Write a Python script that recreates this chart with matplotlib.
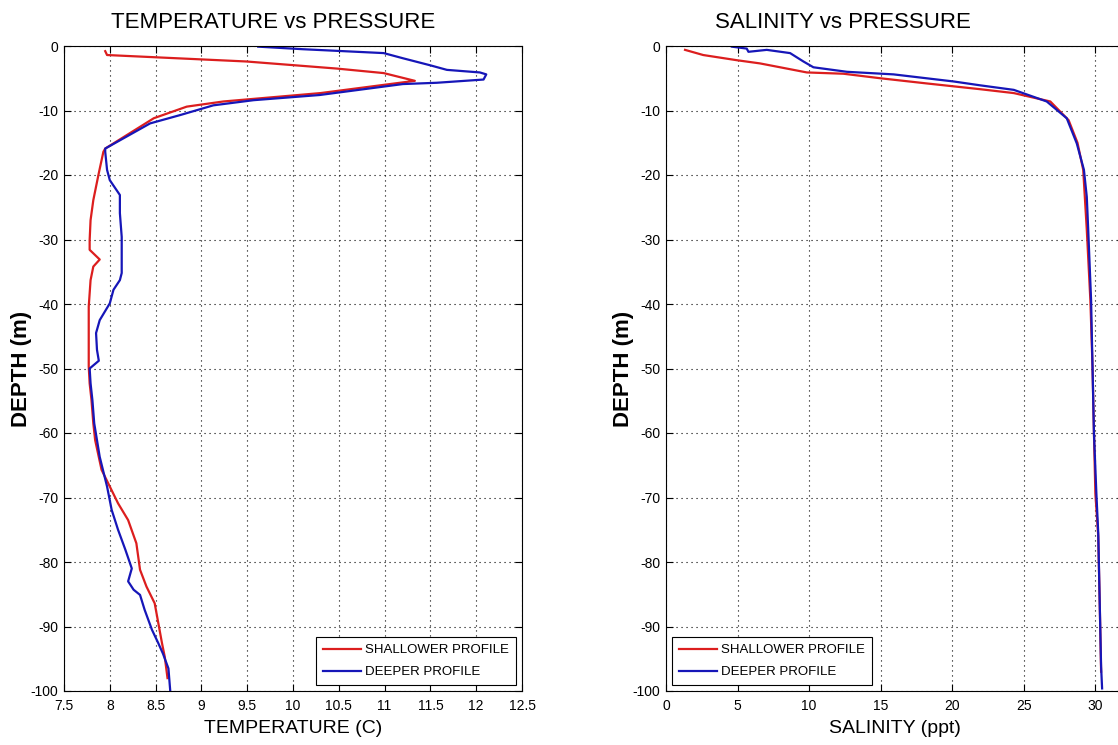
import matplotlib
matplotlib.use("Agg")
import matplotlib.pyplot as plt

plt.rcParams['axes.unicode_minus'] = False

# ---------------- data ----------------
# Temperature vs depth, shallower profile
temp_shallow = [7.95, 7.97, 9.49, 10.48, 10.99, 11.33, 10.30, 9.24, 8.84, 8.48, 7.95,
                7.93, 7.88, 7.82, 7.79, 7.78, 7.78, 7.89, 7.82, 7.79, 7.77, 7.77, 7.77,
                7.78, 7.80, 7.82, 7.84, 7.91, 8.00, 8.09, 8.20, 8.29, 8.33, 8.40, 8.49,
                8.53, 8.57, 8.60, 8.63]
depth_t_shallow = [-0.8, -1.4, -2.4, -3.5, -4.2, -5.4, -7.3, -8.6, -9.4, -11.2, -15.9,
                   -16.4, -19.7, -23.9, -27.0, -30.1, -31.6, -33.1, -34.2, -36.3, -40.4, -45.6, -49.7,
                   -52.3, -54.9, -58.5, -61.1, -65.7, -68.3, -70.9, -73.5, -77.1, -81.2, -83.8, -86.4,
                   -89.5, -92.6, -94.7, -98.0]

# Temperature vs depth, deeper profile
temp_deep = [9.62, 10.11, 10.99, 11.20, 11.50, 11.68, 12.04, 12.11, 12.08, 11.57, 11.20,
             10.29, 9.57, 9.13, 8.77, 8.44, 7.95,
             7.95, 7.97, 8.00, 8.11, 8.11, 8.13, 8.13, 8.11, 8.04, 8.00, 7.89, 7.85, 7.86,
             7.88, 7.78, 7.79, 7.81, 7.83, 7.89, 7.97, 8.02, 8.09, 8.17, 8.24, 8.20, 8.26,
             8.33, 8.38, 8.46, 8.53, 8.58, 8.64, 8.66]
depth_t_deep = [-0.1, -0.5, -1.1, -1.9, -3.0, -3.7, -4.1, -4.4, -5.2, -5.7, -5.9,
                -7.6, -8.4, -9.2, -10.7, -12.0, -15.9,
                -16.4, -19.2, -20.8, -23.1, -25.9, -29.6, -35.2, -36.3, -37.8, -39.9, -42.5, -44.5, -47.1,
                -48.8, -50.0, -52.3, -54.9, -58.5, -63.7, -68.3, -71.9, -75.0, -78.1, -81.0, -83.0, -84.3,
                -85.1, -87.4, -90.5, -92.6, -94.2, -96.5, -100.0]

# Salinity vs depth, shallower profile
sal_shallow = [1.33, 2.6, 4.94, 6.57, 8.44, 9.84, 12.4, 14.97, 18.2, 21.96, 24.3, 26.85,
               28.13, 28.75, 29.15, 29.4, 29.65, 29.8, 29.9, 30.0, 30.2, 30.3, 30.4]
depth_s_shallow = [-0.6, -1.4, -2.2, -2.7, -3.5, -4.1, -4.3, -5.0, -5.8, -6.7, -7.3, -8.6,
                   -11.5, -15.0, -19.2, -28.5, -39.4, -49.7, -60.0, -69.4, -76.0, -86.0, -97.0]

# Salinity vs depth, deeper profile
sal_deep = [4.6, 5.64, 5.76, 7.04, 8.67, 9.6, 10.3, 12.64, 15.9, 20.1, 21.96, 24.3, 26.6,
            28.0, 28.7, 29.2, 29.4, 29.5, 29.7, 29.8, 29.9, 30.07, 30.2, 30.3, 30.4, 30.47]
depth_s_deep = [-0.1, -0.4, -0.9, -0.6, -1.1, -2.4, -3.3, -4.0, -4.4, -5.5, -6.1, -6.8, -8.6,
                -11.2, -15.1, -19.2, -23.4, -28.5, -39.4, -49.7, -60.0, -69.4, -75.5, -85.9, -96.2, -99.6]

temp_ticks = [7.5, 8, 8.5, 9, 9.5, 10, 10.5, 11, 11.5, 12, 12.5]
temp_ticklabels = ['7.5', '8', '8.5', '9', '9.5', '10', '10.5', '11', '11.5', '12', '12.5']
sal_ticks = [0, 5, 10, 15, 20, 25, 30]
sal_ticklabels = ['0', '5', '10', '15', '20', '25', '30']
depth_ticks = [0, -10, -20, -30, -40, -50, -60, -70, -80, -90, -100]
depth_ticklabels = ['0', '-10', '-20', '-30', '-40', '-50', '-60', '-70', '-80', '-90', '-100']

series_labels = ['SHALLOWER PROFILE', 'DEEPER PROFILE']
# ---------------------------------------------------------------

RED = '#dc1e1e'
BLUE = '#1616b8'
NARROW = ['Liberation Sans Narrow', 'Liberation Sans', 'DejaVu Sans']
REG = ['Liberation Sans', 'DejaVu Sans']

W, H = 1118, 745
fig = plt.figure(figsize=(W / 100, H / 100), dpi=100)

top = 46
bot = 691
axh = (bot - top) / H
axb = 1 - bot / H

ax1 = fig.add_axes([64 / W, axb, 458 / W, axh])
ax2 = fig.add_axes([666 / W, axb, 458 / W, axh])


def style(ax, xticks, xlabels, xlim, title, xlabel, title_x):
    ax.set_xlim(*xlim)
    ax.set_ylim(-100, 0)
    ax.set_xticks(xticks)
    ax.set_xticklabels(xlabels, fontfamily=NARROW, fontsize=10)
    ax.set_yticks(depth_ticks)
    ax.set_yticklabels(depth_ticklabels, fontfamily=NARROW, fontsize=10)
    ax.tick_params(direction='in', length=5, width=0.8, top=True, right=True,
                   colors='black')
    ax.tick_params(axis='x', pad=6)
    ax.tick_params(axis='y', pad=4)
    ax.grid(True, color='black', linestyle=(0, (1, 3.5)), linewidth=0.8)
    for s in ax.spines.values():
        s.set_linewidth(0.8)
        s.set_color('black')
    ax.set_title(title, fontfamily=REG, fontsize=16, pad=13, x=title_x)
    ax.set_xlabel(xlabel, fontfamily=REG, fontsize=14, labelpad=5)
    ax.set_ylabel('DEPTH (m)', fontfamily=REG, fontsize=16, fontweight='bold', labelpad=-1)


ax1.plot(temp_shallow, depth_t_shallow, color=RED, lw=1.6, label=series_labels[0])
ax1.plot(temp_deep, depth_t_deep, color=BLUE, lw=1.6, label=series_labels[1])
style(ax1, temp_ticks, temp_ticklabels, (7.5, 12.5), 'TEMPERATURE vs PRESSURE',
      'TEMPERATURE (C)', (273 - 64) / 458)

ax2.plot(sal_shallow, depth_s_shallow, color=RED, lw=1.6, label=series_labels[0])
ax2.plot(sal_deep, depth_s_deep, color=BLUE, lw=1.6, label=series_labels[1])
style(ax2, sal_ticks, sal_ticklabels, (0, 32), 'SALINITY vs PRESSURE',
      'SALINITY (ppt)', (843 - 666) / 458)

for ax, loc in ((ax1, 'lower right'), (ax2, 'lower left')):
    leg = ax.legend(loc=loc, prop={'family': NARROW, 'size': 9.5}, fancybox=False,
                    framealpha=1, edgecolor='black', handlelength=2.9, handletextpad=0.3,
                    borderpad=0.55, labelspacing=0.72, borderaxespad=0.42)
    leg.get_frame().set_linewidth(0.8)

fig.savefig('out.png', dpi=100)
